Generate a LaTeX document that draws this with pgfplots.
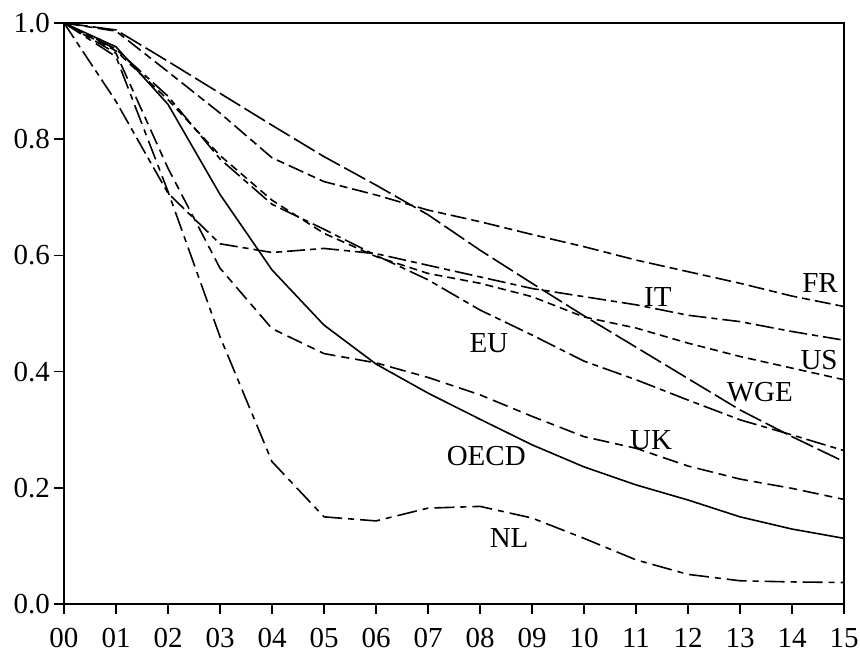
\documentclass[border=0pt]{standalone}
\usepackage{fontspec}
\setmainfont{Liberation Serif}
\usepackage{pgfplots}
\pgfplotsset{compat=1.18}

\begin{document}
\begin{tikzpicture}
\useasboundingbox (-32pt,-24.5pt) rectangle (398pt,302pt);
\begin{axis}[
    at={(0pt,0pt)}, anchor=south west,
    scale only axis, width=390pt, height=290.5pt,
    xmin=0, xmax=15, ymin=0, ymax=1,
    xtick={0,1,...,15},
    xticklabels={00,01,02,03,04,05,06,07,08,09,10,11,12,13,14,15},
    ytick={0,0.2,0.4,0.6,0.8,1},
    yticklabel style={xshift=1.5pt, /pgf/number format/.cd, fixed, fixed zerofill, precision=1, assume math mode=true},
    tick label style={font=\fontsize{14.5}{17}\selectfont, black},
    xticklabel style={yshift=-3.5pt},
    xtick pos=bottom, ytick pos=left,
    tick align=outside, major tick length=5pt,
    tick style={line width=0.8pt, black},
    axis line style={line width=1pt},
    every axis plot/.append style={black, line width=0.8pt, mark=none},
    clip=false,
  ]
  % OECD
  \addplot[solid] coordinates {(0,1)(1,0.959)(2,0.86)(3,0.705)(4,0.575)(5,0.48)(6,0.413)(7,0.363)(8,0.318)(9,0.274)(10,0.236)(11,0.205)(12,0.179)(13,0.150)(14,0.129)(15,0.113)};
  % WGE
  \addplot[dash pattern=on 12pt off 2.5pt] coordinates {(0,1)(1,0.988)(2,0.934)(3,0.879)(4,0.824)(5,0.770)(6,0.721)(7,0.670)(8,0.609)(9,0.552)(10,0.496)(11,0.442)(12,0.388)(13,0.334)(14,0.288)(15,0.245)};
  % FR
  \addplot[dash pattern=on 8pt off 2.5pt on 4pt off 2.5pt] coordinates {(0,1)(1,0.986)(2,0.916)(3,0.845)(4,0.768)(5,0.727)(6,0.704)(7,0.678)(8,0.658)(9,0.636)(10,0.615)(11,0.592)(12,0.572)(13,0.552)(14,0.530)(15,0.512)};
  % IT
  \addplot[dash pattern=on 9pt off 2.5pt on 3pt off 2.5pt] coordinates {(0,1)(1,0.865)(2,0.707)(3,0.62)(4,0.605)(5,0.612)(6,0.603)(7,0.583)(8,0.563)(9,0.543)(10,0.529)(11,0.515)(12,0.497)(13,0.486)(14,0.469)(15,0.454)};
  % US
  \addplot[dash pattern=on 4pt off 2.5pt] coordinates {(0,1)(1,0.952)(2,0.868)(3,0.772)(4,0.695)(5,0.638)(6,0.598)(7,0.569)(8,0.552)(9,0.529)(10,0.494)(11,0.475)(12,0.449)(13,0.426)(14,0.406)(15,0.386)};
  % EU
  \addplot[dash pattern=on 10pt off 2.5pt on 3pt off 2.5pt] coordinates {(0,1)(1,0.955)(2,0.874)(3,0.766)(4,0.688)(5,0.645)(6,0.600)(7,0.558)(8,0.506)(9,0.463)(10,0.418)(11,0.386)(12,0.351)(13,0.317)(14,0.291)(15,0.264)};
  % UK
  \addplot[dash pattern=on 8pt off 3pt on 4pt off 3pt] coordinates {(0,1)(1,0.948)(2,0.75)(3,0.578)(4,0.474)(5,0.431)(6,0.415)(7,0.39)(8,0.36)(9,0.323)(10,0.288)(11,0.268)(12,0.2375)(13,0.215)(14,0.199)(15,0.18)};
  % NL
  \addplot[dash pattern=on 10pt off 3pt on 3pt off 3pt] coordinates {(0,1)(1,0.942)(2,0.71)(3,0.46)(4,0.245)(5,0.150)(6,0.143)(7,0.165)(8,0.168)(9,0.148)(10,0.113)(11,0.076)(12,0.051)(13,0.040)(14,0.038)(15,0.037)};

  \begin{scope}[every node/.style={font=\fontsize{14.5}{17}\selectfont, inner sep=0pt}]
    \node at (axis cs:14.54,0.552) {FR};
    \node at (axis cs:11.42,0.528) {IT};
    \node at (axis cs:14.52,0.420) {US};
    \node at (axis cs:13.38,0.365) {WGE};
    \node at (axis cs:11.29,0.282) {UK};
    \node at (axis cs:8.17,0.449) {EU};
    \node at (axis cs:8.12,0.254) {OECD};
    \node at (axis cs:8.56,0.113) {NL};
  \end{scope}
\end{axis}
\end{tikzpicture}
\end{document}
